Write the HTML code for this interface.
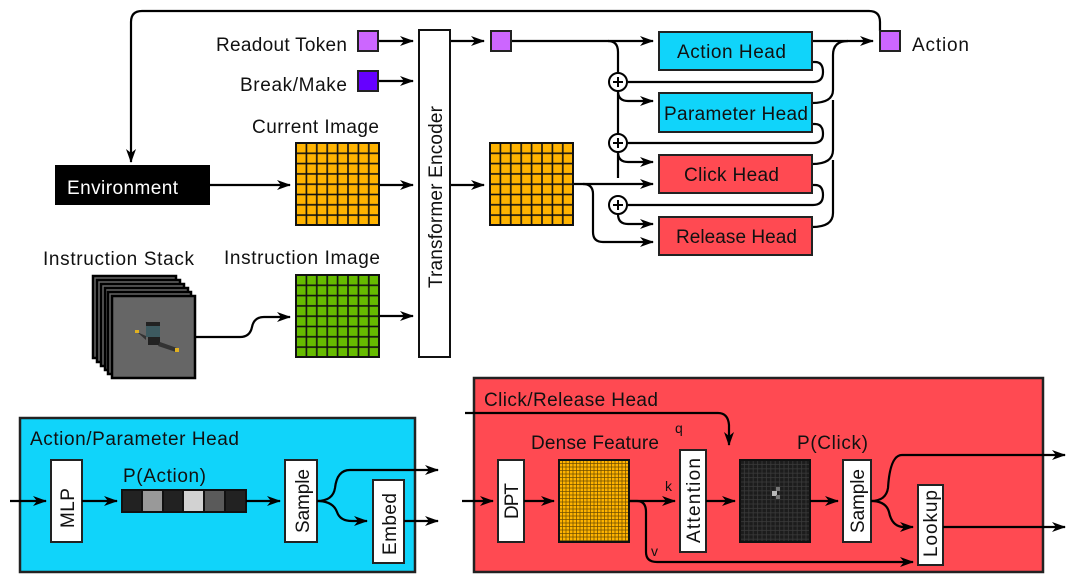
<!DOCTYPE html>
<html><head><meta charset="utf-8"><style>
html,body{margin:0;padding:0;background:#fff;}
svg{display:block;font-family:"Liberation Sans",sans-serif;}
text{font-size:19px;fill:#111;}
</style></head><body>
<svg width="1079" height="583" viewBox="0 0 1079 583" xmlns="http://www.w3.org/2000/svg">
<defs>
<marker id="a" markerWidth="14" markerHeight="10" refX="13" refY="5" orient="auto" markerUnits="userSpaceOnUse">
<path d="M0,0 L14,5 L0,10 L4,5 Z" fill="#000"/></marker>
<pattern id="go" x="296" y="143" width="10.4" height="10.3" patternUnits="userSpaceOnUse"><rect width="10.4" height="10.3" fill="#ffb300" stroke="#111" stroke-width="1.6"/></pattern>
<pattern id="go2" x="490" y="143" width="10.4" height="10.3" patternUnits="userSpaceOnUse"><rect width="10.4" height="10.3" fill="#ffb300" stroke="#111" stroke-width="1.6"/></pattern>
<pattern id="gg" x="296" y="275" width="10.4" height="10.3" patternUnits="userSpaceOnUse"><rect width="10.4" height="10.3" fill="#66bb00" stroke="#111" stroke-width="1.6"/></pattern>
<pattern id="gd" x="559" y="460" width="3.5" height="3.5" patternUnits="userSpaceOnUse"><rect width="3.5" height="3.5" fill="#ffb300" stroke="#6a4a00" stroke-width="0.7"/></pattern>
<pattern id="gc" x="740" y="460" width="4.4" height="4.4" patternUnits="userSpaceOnUse"><rect width="4.4" height="4.4" fill="#1c1c1c" stroke="#3a3a3a" stroke-width="0.8"/></pattern>
</defs>
<g fill="none" stroke="#000" stroke-width="2.2">
<!-- top loop -->
<path d="M880,31 V22 Q880,11 869,11 H142 Q131,11 131,22 V162" marker-end="url(#a)"/>
<!-- env to current image -->
<path d="M210,185 H290" marker-end="url(#a)"/>
<path d="M379,185 H413" marker-end="url(#a)"/>
<path d="M379,316 H413" marker-end="url(#a)"/>
<path d="M195,337 H240 Q250,337 252,327 Q254,317 264,317 H290" marker-end="url(#a)"/>
<path d="M378,41 H413" marker-end="url(#a)"/>
<path d="M378,81 H413" marker-end="url(#a)"/>
<path d="M450,41 H484" marker-end="url(#a)"/>
<path d="M450,185 H484" marker-end="url(#a)"/>
<!-- readout to heads -->
<path d="M511,41 H653" marker-end="url(#a)"/>
<path d="M608,41 Q618,41 618,52 V73"/>
<path d="M618,91 V134"/>
<path d="M618,152 V178"/>
<path d="M618,91 Q618,101 628,101 H653" marker-end="url(#a)"/>
<path d="M618,152 Q618,162 628,162 H653" marker-end="url(#a)"/>
<path d="M618,214 Q618,224 628,224 H653" marker-end="url(#a)"/>
<path d="M573,184 H653" marker-end="url(#a)"/>
<path d="M583,184 Q593,184 593,194 V232 Q593,242 603,242 H653" marker-end="url(#a)"/>
<!-- loops back from heads -->
<path d="M812,62 H815 Q823,62 823,72 Q823,82 813,82 H628"/>
<path d="M812,124 H815 Q823,124 823,134 Q823,143 813,143 H628"/>
<path d="M812,185 H815 Q823,185 823,195 Q823,205 813,205 H628"/>
<!-- outputs to action -->
<path d="M812,41 H873" marker-end="url(#a)"/>
<path d="M812,103 Q833,103 833,90 V55 Q833,41 848,41"/>
<path d="M812,164 Q833,164 833,150 V100"/>
<path d="M812,227 Q833,227 833,213 V160"/>
</g>
<!-- plus circles -->
<g fill="#fff" stroke="#000" stroke-width="2">
<circle cx="618" cy="82" r="9"/><circle cx="618" cy="143" r="9"/><circle cx="618" cy="205" r="9"/>
</g>
<g stroke="#000" stroke-width="2">
<path d="M613,82 H623 M618,77 V87 M613,143 H623 M618,138 V148 M613,205 H623 M618,200 V210"/>
</g>
<!-- environment -->
<rect x="55" y="165" width="155" height="40" fill="#000"/>
<text x="67" y="194" fill="#fff" style="fill:#fff" textLength="111">Environment</text>
<!-- tokens -->
<rect x="358" y="31" width="20" height="20" fill="#cc66ff" stroke="#222" stroke-width="2"/>
<rect x="358" y="71" width="20" height="20" fill="#6600ff" stroke="#222" stroke-width="2"/>
<rect x="491" y="31" width="20" height="20" fill="#cc66ff" stroke="#222" stroke-width="2"/>
<rect x="880" y="31" width="20" height="20" fill="#cc66ff" stroke="#222" stroke-width="2"/>
<text x="216" y="51" textLength="131">Readout Token</text>
<text x="240" y="91" textLength="107">Break/Make</text>
<text x="912" y="51" textLength="57">Action</text>
<text x="252" y="133" textLength="127">Current Image</text>
<text x="224" y="264" textLength="156">Instruction Image</text>
<text x="43" y="265" textLength="151">Instruction Stack</text>
<!-- grids -->
<rect x="296" y="143" width="83" height="82" fill="url(#go)" stroke="#111" stroke-width="2"/>
<rect x="490" y="143" width="83" height="82" fill="url(#go2)" stroke="#111" stroke-width="2"/>
<rect x="296" y="275" width="83" height="82" fill="url(#gg)" stroke="#111" stroke-width="2"/>
<!-- encoder -->
<rect x="419" y="30" width="31" height="327" fill="#fff" stroke="#111" stroke-width="2"/>
<text transform="translate(442,288) rotate(-90)" textLength="182">Transformer Encoder</text>
<!-- stack -->
<g stroke="#000" stroke-width="2.5" fill="#666">
<rect x="93" y="276" width="83" height="82"/>
<rect x="97" y="280" width="83" height="82"/>
<rect x="101" y="284" width="83" height="82"/>
<rect x="105" y="288" width="83" height="82"/>
<rect x="108" y="292" width="83" height="82"/>
<rect x="112" y="296" width="83" height="82"/>
</g>
<rect x="146" y="325" width="14" height="12" fill="#3d5a60"/>
<rect x="146" y="322" width="14" height="4" fill="#222"/>
<rect x="148" y="337" width="12" height="8" fill="#222"/>
<path d="M137,332 L146,336 L146,340 Z M160,342 L177,348 L176,352 L158,346 Z" fill="#333"/>
<rect x="135" y="330" width="4" height="3" fill="#e0b020"/>
<rect x="175" y="348" width="4" height="4" fill="#e0b020"/>
<!-- heads -->
<rect x="659" y="32" width="153" height="38" fill="#10d4fa" stroke="#222" stroke-width="2"/>
<rect x="659" y="93" width="153" height="39" fill="#10d4fa" stroke="#222" stroke-width="2"/>
<rect x="659" y="155" width="153" height="38" fill="#ff4a52" stroke="#222" stroke-width="2"/>
<rect x="659" y="217" width="153" height="38" fill="#ff4a52" stroke="#222" stroke-width="2"/>
<text x="677" y="58" textLength="109">Action Head</text>
<text x="664" y="120" textLength="144">Parameter Head</text>
<text x="684" y="181" textLength="95">Click Head</text>
<text x="676" y="243" textLength="121">Release Head</text>
<!-- bottom left box -->
<rect x="20" y="418" width="395" height="154" fill="#10d4fa" stroke="#222" stroke-width="2.5"/>
<text x="30" y="445" textLength="209">Action/Parameter Head</text>
<rect x="51" y="460" width="31" height="82" fill="#fff" stroke="#222" stroke-width="2"/>
<text transform="translate(74,528) rotate(-90)" textLength="40">MLP</text>
<text x="123" y="482" textLength="83">P(Action)</text>
<g stroke="#111" stroke-width="2">
<rect x="122" y="490" width="20" height="22" fill="#222"/>
<rect x="142" y="490" width="21" height="22" fill="#999"/>
<rect x="163" y="490" width="20" height="22" fill="#222"/>
<rect x="183" y="490" width="21" height="22" fill="#d2d2d2"/>
<rect x="204" y="490" width="21" height="22" fill="#5a5a5a"/>
<rect x="225" y="490" width="21" height="22" fill="#222"/>
</g>
<rect x="285" y="460" width="32" height="82" fill="#fff" stroke="#222" stroke-width="2"/>
<text transform="translate(309,533) rotate(-90)" textLength="64">Sample</text>
<rect x="373" y="480" width="31" height="83" fill="#fff" stroke="#222" stroke-width="2"/>
<text transform="translate(396,555) rotate(-90)" textLength="62">Embed</text>
<g fill="none" stroke="#000" stroke-width="2.2">
<path d="M10,501 H46" marker-end="url(#a)"/>
<path d="M82,501 H117" marker-end="url(#a)"/>
<path d="M246,501 H280" marker-end="url(#a)"/>
<path d="M317,501 Q333,501 335,488 Q337,470 350,470 H438" marker-end="url(#a)"/>
<path d="M317,501 Q333,501 337,512 Q340,521 352,521 H367" marker-end="url(#a)"/>
<path d="M404,521 H438" marker-end="url(#a)"/>
</g>
<!-- bottom right box -->
<rect x="474" y="378" width="569" height="194" fill="#ff4a52" stroke="#222" stroke-width="2.5"/>
<text x="484" y="406" textLength="174">Click/Release Head</text>
<text x="531" y="449" textLength="128">Dense Feature</text>
<text x="797" y="449" textLength="71">P(Click)</text>
<text x="675" y="433" style="font-size:14px" textLength="8">q</text>
<text x="665" y="491" style="font-size:14px" textLength="8">k</text>
<text x="651" y="556" style="font-size:14px" textLength="8">v</text>
<rect x="498" y="460" width="26" height="82" fill="#fff" stroke="#222" stroke-width="2"/>
<text transform="translate(518,519) rotate(-90)" textLength="36">DPT</text>
<rect x="559" y="460" width="70" height="82" fill="url(#gd)" stroke="#111" stroke-width="2"/>
<rect x="680" y="450" width="26" height="102" fill="#fff" stroke="#222" stroke-width="2"/>
<text transform="translate(700,543) rotate(-90)" textLength="85">Attention</text>
<rect x="740" y="460" width="70" height="82" fill="url(#gc)" stroke="#111" stroke-width="2"/>
<rect x="772" y="491" width="5" height="5" fill="#bbb"/><rect x="776" y="487" width="4" height="4" fill="#777"/><rect x="776" y="495" width="4" height="4" fill="#777"/>
<rect x="843" y="460" width="28" height="82" fill="#fff" stroke="#222" stroke-width="2"/>
<text transform="translate(864,533) rotate(-90)" textLength="64">Sample</text>
<rect x="918" y="485" width="25" height="80" fill="#fff" stroke="#222" stroke-width="2"/>
<text transform="translate(937,557) rotate(-90)" textLength="67">Lookup</text>
<g fill="none" stroke="#000" stroke-width="2.2">
<path d="M465,413 H718 Q728,413 729,425 V445" marker-end="url(#a)"/>
<path d="M462,501 H493" marker-end="url(#a)"/>
<path d="M524,501 H554" marker-end="url(#a)"/>
<path d="M629,501 H675" marker-end="url(#a)"/>
<path d="M629,501 H637 Q646,501 646,512 V552 Q646,562 657,562 H913" marker-end="url(#a)"/>
<path d="M706,501 H735" marker-end="url(#a)"/>
<path d="M810,501 H838" marker-end="url(#a)"/>
<path d="M871,501 Q886,501 888,488 Q890,455 902,455 H1065" marker-end="url(#a)"/>
<path d="M871,501 Q886,501 889,512 Q892,527 904,527 H913" marker-end="url(#a)"/>
<path d="M943,527 H1065" marker-end="url(#a)"/>
</g>
</svg>
</body></html>
